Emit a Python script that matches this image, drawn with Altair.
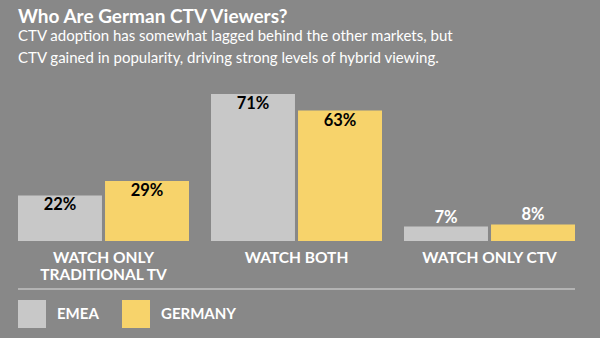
import altair as alt
import pandas as pd

categories = ["WATCH ONLY\nTRADITIONAL TV", "WATCH BOTH", "WATCH ONLY CTV"]
series = ["EMEA", "GERMANY"]
emea = [22, 71, 7]
germany = [29, 63, 8]

rows = []
for i, c in enumerate(categories):
    rows.append({"cat": c, "series": "EMEA", "value": emea[i], "label": f"{emea[i]}%"})
    rows.append({"cat": c, "series": "GERMANY", "value": germany[i], "label": f"{germany[i]}%"})
df = pd.DataFrame(rows)
cat_df = pd.DataFrame({"cat": categories})

FONT = "Lato"
BG = "#888888"
GRAY = "#c8c8c8"
YELLOW = "#f7d36b"

xscale = alt.Scale(domain=categories, range=[18, 575], paddingInner=0.114, paddingOuter=0)
yscale = alt.Scale(domain=[0, 100], range=[241, 34])
color = alt.Color("series:N", scale=alt.Scale(domain=series, range=[GRAY, YELLOW]),
                  legend=alt.Legend(orient="none", legendX=18, legendY=300, direction="horizontal",
                                    title=None, symbolType="square", symbolSize=784,
                                    symbolStrokeWidth=0, symbolOpacity=1,
                                    labelFont=FONT, labelFontSize=15, labelFontWeight="bold",
                                    labelColor="white", labelOffset=11, columnPadding=23))

base = alt.Chart(df).encode(
    x=alt.X("cat:N", scale=xscale, axis=None, sort=categories),
    xOffset=alt.XOffset("series:N", scale=alt.Scale(domain=series, paddingInner=0.035)),
)

bars = base.mark_bar().encode(
    y=alt.Y("value:Q", scale=yscale, axis=None),
    color=color,
)

inside = base.mark_text(font=FONT, fontSize=16.5, fontWeight="bold", color="black", baseline="middle", dy=10).encode(
    y=alt.Y("value:Q", scale=yscale), text="label:N"
).transform_filter("datum.value >= 15")

outside = base.mark_text(font=FONT, fontSize=16.5, fontWeight="bold", color="white", baseline="middle", dy=-9).encode(
    y=alt.Y("value:Q", scale=yscale), text="label:N"
).transform_filter("datum.value < 15")

cat_labels = alt.Chart(cat_df).mark_text(font=FONT, fontSize=15.5, fontWeight="bold", color="white",
                                         baseline="middle", lineBreak="\n", lineHeight=17).encode(
    x=alt.X("cat:N", scale=xscale, axis=None, sort=categories),
    y=alt.value(258),
    text="cat:N",
)

divider = alt.Chart(cat_df).mark_rule(color="#b3b3b3", strokeWidth=2).encode(
    x=alt.value(18), x2=alt.value(575), y=alt.value(289)
)

chart = alt.layer(bars, inside, outside, cat_labels, divider).properties(
    width=600, height=338,
    autosize=alt.AutoSizeParams(type="none"),
    padding=0,
    background=BG,
    title=alt.TitleParams(
        "Who Are German CTV Viewers?",
        subtitle=["CTV adoption has somewhat lagged behind the other markets, but",
                  "CTV gained in popularity, driving strong levels of hybrid viewing."],
        anchor="start", frame="group", orient="top", offset=0, dx=18, dy=66,
        font=FONT, fontSize=19, fontWeight="bold", color="white",
        subtitleFont=FONT, subtitleFontSize=15, subtitleColor="white", subtitleLineHeight=22,
        subtitlePadding=2, baseline="top",
    ),
).configure_view(stroke=None).resolve_scale(y="shared")

chart.save("out.html", embed_options={"renderer": "svg", "actions": False})
